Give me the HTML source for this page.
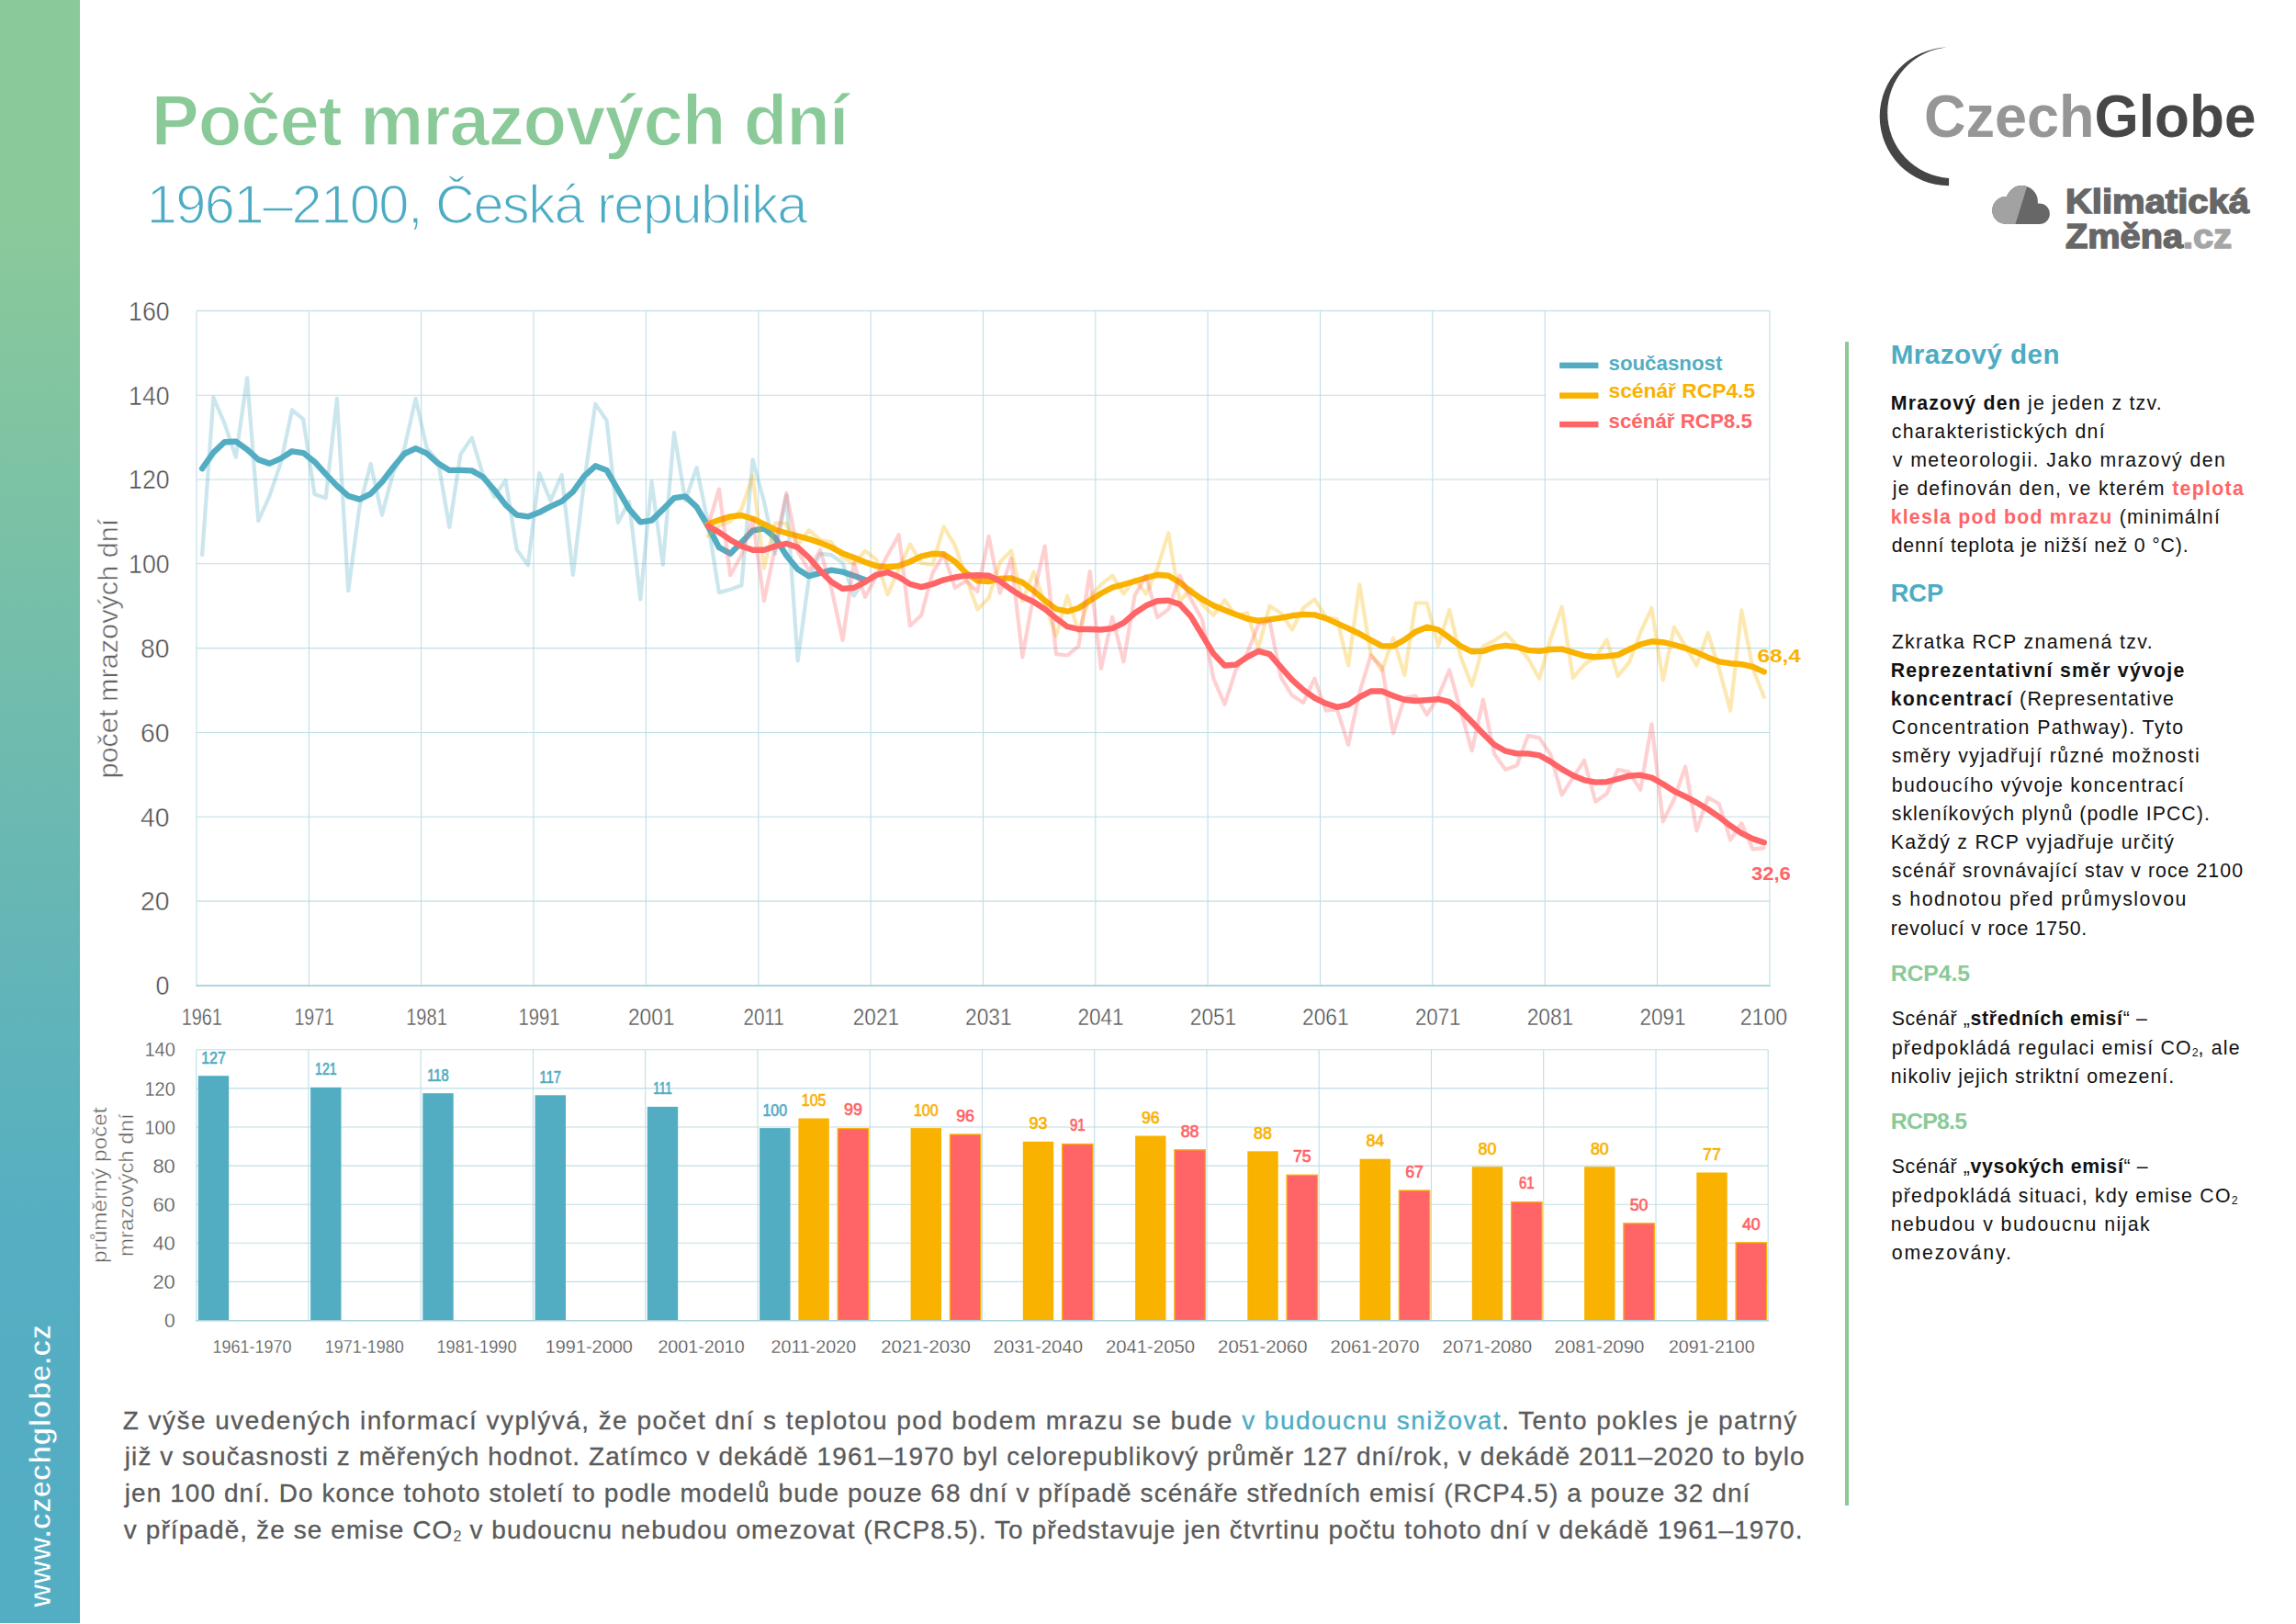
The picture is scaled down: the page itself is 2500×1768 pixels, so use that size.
<!DOCTYPE html>
<html lang="cs"><head><meta charset="utf-8"><title>Počet mrazových dní</title>
<style>
html,body{margin:0;padding:0;background:#fff}
body{width:2500px;height:1768px;position:relative;overflow:hidden;font-family:"Liberation Sans",sans-serif}
#bar{position:absolute;left:0;top:0;width:87.4px;height:1766.5px;background:linear-gradient(to bottom,#8ACA99 0%,#8AC99A 14%,#6FBBAE 45%,#55AEC2 76%,#53ADC3 100%)}
#vline{position:absolute;left:2009.3px;top:372px;width:4.2px;height:1266.8px;background:#8ACA98}
svg{position:absolute;left:0;top:0}
svg text{font-family:"Liberation Sans",sans-serif}
.ln{position:absolute;white-space:nowrap;margin:0}
.sb{color:#111}
.sb b{font-weight:bold}
.r{color:#FF6466}
.hd{color:#4CACC4;font-weight:bold}
.hg{color:#8ACA98;font-weight:bold}
.pp{color:#5a5a5a;-webkit-text-stroke:0.3px #5a5a5a}
.t{color:#4CACC4;-webkit-text-stroke:0.3px #4CACC4}
.tt{color:#8ACA98;font-weight:bold;-webkit-text-stroke:1.4px #fff}
.st{color:#4CACC4;-webkit-text-stroke:1.5px #fff}
sub{font-size:58%;vertical-align:baseline;position:relative;top:0.18em;letter-spacing:0;-webkit-text-stroke:0}
</style></head><body>
<div id="bar"></div>
<div id="vline"></div>
<svg width="2500" height="1768" viewBox="0 0 2500 1768">
<g stroke="#BEDEE7" stroke-width="1.1" fill="none"><line x1="214.0" y1="1072.9" x2="1926.9" y2="1072.9"/><line x1="214.0" y1="981.1" x2="1926.9" y2="981.1"/><line x1="214.0" y1="889.3" x2="1926.9" y2="889.3"/><line x1="214.0" y1="797.5" x2="1926.9" y2="797.5"/><line x1="214.0" y1="705.6" x2="1926.9" y2="705.6"/><line x1="214.0" y1="613.8" x2="1926.9" y2="613.8"/><line x1="214.0" y1="522.0" x2="1926.9" y2="522.0"/><line x1="214.0" y1="430.2" x2="1926.9" y2="430.2"/><line x1="214.0" y1="338.4" x2="1926.9" y2="338.4"/><line x1="214.0" y1="338.4" x2="214.0" y2="1072.9"/><line x1="336.4" y1="338.4" x2="336.4" y2="1072.9"/><line x1="458.7" y1="338.4" x2="458.7" y2="1072.9"/><line x1="581.0" y1="338.4" x2="581.0" y2="1072.9"/><line x1="703.4" y1="338.4" x2="703.4" y2="1072.9"/><line x1="825.8" y1="338.4" x2="825.8" y2="1072.9"/><line x1="948.1" y1="338.4" x2="948.1" y2="1072.9"/><line x1="1070.4" y1="338.4" x2="1070.4" y2="1072.9"/><line x1="1192.8" y1="338.4" x2="1192.8" y2="1072.9"/><line x1="1315.1" y1="338.4" x2="1315.1" y2="1072.9"/><line x1="1437.5" y1="338.4" x2="1437.5" y2="1072.9"/><line x1="1559.8" y1="338.4" x2="1559.8" y2="1072.9"/><line x1="1682.2" y1="338.4" x2="1682.2" y2="1072.9"/><line x1="1804.5" y1="338.4" x2="1804.5" y2="1072.9"/><line x1="1926.9" y1="338.4" x2="1926.9" y2="1072.9"/></g>
<rect x="1683.6" y="339.5" width="242.2" height="181.2" fill="#fff"/>
<line x1="213.4" y1="1073.1" x2="1927.5" y2="1073.1" stroke="#A9D3DE" stroke-width="1.8"/>
<g fill="none" stroke-linejoin="round" stroke-linecap="round"><polyline points="220.1,604.2 232.4,432.5 244.6,461.4 256.8,497.7 269.1,411.4 281.3,567.0 293.5,539.9 305.8,503.7 318.0,446.3 330.2,456.4 342.5,538.1 354.7,542.2 366.9,433.9 379.2,643.2 391.4,552.3 403.6,505.0 415.9,560.6 428.1,514.7 440.3,488.1 452.6,433.9 464.8,488.1 477.1,502.3 489.3,573.9 501.5,494.5 513.8,476.6 526.0,517.4 538.2,540.8 550.5,522.9 562.7,598.2 574.9,615.2 587.2,515.1 599.4,545.0 611.6,517.0 623.9,625.8 636.1,524.3 648.3,439.9 660.6,457.8 672.8,568.8 685.0,545.9 697.3,652.4 709.5,524.3 721.8,614.8 734.0,471.1 746.2,545.0 758.5,509.2 770.7,567.9 782.9,645.1 795.2,641.8 807.4,637.2 819.6,500.4 831.9,545.9 844.1,602.8 856.3,539.5 868.6,719.4 880.8,629.4 893.0,602.8 905.3,604.2 917.5,612.9 929.7,648.7 942.0,630.8" stroke="#52ADC3" stroke-width="4.2" stroke-opacity="0.3"/><polyline points="220.1,510.1 232.4,492.6 244.6,481.2 256.8,480.7 269.1,489.4 281.3,500.4 293.5,504.6 305.8,499.1 318.0,491.3 330.2,493.1 342.5,502.7 354.7,516.1 366.9,528.9 379.2,539.9 391.4,543.6 403.6,537.6 415.9,524.8 428.1,508.7 440.3,494.0 452.6,488.1 464.8,493.6 477.1,504.6 489.3,511.9 501.5,511.9 513.8,512.4 526.0,519.3 538.2,533.5 550.5,549.6 562.7,560.6 574.9,562.4 587.2,557.8 599.4,551.4 611.6,545.9 623.9,535.3 636.1,518.4 648.3,507.3 660.6,511.9 672.8,533.0 685.0,554.2 697.3,568.4 709.5,566.6 721.8,554.6 734.0,542.2 746.2,540.4 758.5,551.9 770.7,572.5 782.9,595.9 795.2,602.8 807.4,590.4 819.6,577.6 831.9,575.3 844.1,585.4 856.3,604.7 868.6,619.8 880.8,627.2 893.0,623.9 905.3,620.7 917.5,622.6 929.7,626.7 942.0,631.3" stroke="#52ADC3" stroke-width="6.4"/><polyline points="770.7,583.5 782.9,572.1 795.2,567.9 807.4,554.2 819.6,518.4 831.9,618.4 844.1,569.3 856.3,570.2 868.6,593.2 880.8,577.1 893.0,587.7 905.3,590.4 917.5,607.0 929.7,614.3 942.0,599.6 954.2,609.2 966.5,647.3 978.7,619.8 990.9,592.7 1003.2,612.9 1015.4,614.8 1027.6,573.4 1039.9,594.1 1052.1,629.4 1064.3,663.4 1076.6,651.0 1088.8,612.0 1101.0,599.6 1113.3,654.7 1125.5,622.6 1137.7,656.5 1150.0,692.3 1162.2,648.7 1174.4,688.2 1186.7,649.6 1198.9,636.3 1211.2,626.7 1223.4,646.4 1235.6,630.8 1247.9,646.4 1260.1,618.9 1272.3,580.3 1284.6,654.7 1296.8,640.5 1309.0,657.9 1321.3,669.8 1333.5,653.3 1345.7,670.3 1358.0,667.5 1370.2,705.6 1382.4,659.7 1394.7,667.5 1406.9,685.5 1419.1,662.0 1431.4,652.4 1443.6,671.7 1455.9,674.0 1468.1,724.5 1480.3,636.3 1492.6,712.1 1504.8,730.0 1517.0,694.6 1529.3,735.0 1541.5,656.5 1553.7,656.5 1566.0,702.9 1578.2,663.9 1590.4,714.8 1602.7,746.5 1614.9,703.4 1627.1,697.4 1639.4,689.1 1651.6,702.9 1663.8,716.7 1676.1,738.7 1688.3,695.6 1700.6,660.7 1712.8,737.8 1725.0,723.6 1737.3,715.3 1749.5,696.5 1761.7,735.9 1774.0,720.8 1786.2,688.7 1798.4,662.0 1810.7,740.5 1822.9,682.7 1835.1,703.4 1847.4,724.5 1859.6,689.1 1871.8,727.7 1884.1,773.6 1896.3,664.3 1908.5,727.7 1920.8,758.9" stroke="#FAB200" stroke-width="4.2" stroke-opacity="0.3"/><polyline points="770.7,570.7 782.9,566.1 795.2,562.4 807.4,561.0 819.6,564.7 831.9,570.7 844.1,576.7 856.3,580.3 868.6,583.5 880.8,586.8 893.0,590.9 905.3,595.9 917.5,602.4 929.7,607.0 942.0,612.0 954.2,616.1 966.5,617.5 978.7,616.1 990.9,611.5 1003.2,605.6 1015.4,602.8 1027.6,603.3 1039.9,611.5 1052.1,623.9 1064.3,632.2 1076.6,633.1 1088.8,629.9 1101.0,629.4 1113.3,634.0 1125.5,643.2 1137.7,653.8 1150.0,663.0 1162.2,665.7 1174.4,662.0 1186.7,653.8 1198.9,646.0 1211.2,639.5 1223.4,636.3 1235.6,632.7 1247.9,629.0 1260.1,625.8 1272.3,626.7 1284.6,634.0 1296.8,644.1 1309.0,652.4 1321.3,659.3 1333.5,664.3 1345.7,668.9 1358.0,673.5 1370.2,675.8 1382.4,674.4 1394.7,672.6 1406.9,670.3 1419.1,668.9 1431.4,669.4 1443.6,673.1 1455.9,678.6 1468.1,684.1 1480.3,690.0 1492.6,696.9 1504.8,703.4 1517.0,703.4 1529.3,696.5 1541.5,687.7 1553.7,682.7 1566.0,685.5 1578.2,694.2 1590.4,703.4 1602.7,709.3 1614.9,708.9 1627.1,704.7 1639.4,702.9 1651.6,704.3 1663.8,707.9 1676.1,708.9 1688.3,707.0 1700.6,706.6 1712.8,710.2 1725.0,713.9 1737.3,715.3 1749.5,714.4 1761.7,713.0 1774.0,707.0 1786.2,701.5 1798.4,698.3 1810.7,699.2 1822.9,702.0 1835.1,705.6 1847.4,710.2 1859.6,715.7 1871.8,720.3 1884.1,722.2 1896.3,723.1 1908.5,725.8 1920.8,731.4" stroke="#FAB200" stroke-width="6.4"/><polyline points="770.7,573.4 782.9,532.6 795.2,626.2 807.4,604.2 819.6,565.2 831.9,654.2 844.1,595.5 856.3,536.7 868.6,600.1 880.8,621.2 893.0,598.7 905.3,640.5 917.5,696.9 929.7,612.9 942.0,650.1 954.2,627.2 966.5,604.2 978.7,582.2 990.9,681.3 1003.2,669.8 1015.4,623.9 1027.6,603.7 1039.9,640.0 1052.1,632.2 1064.3,644.1 1076.6,584.0 1088.8,645.5 1101.0,607.9 1113.3,715.3 1125.5,646.9 1137.7,594.6 1150.0,712.1 1162.2,713.5 1174.4,703.4 1186.7,622.1 1198.9,727.7 1211.2,671.7 1223.4,720.3 1235.6,648.3 1247.9,626.7 1260.1,672.1 1272.3,663.4 1284.6,626.7 1296.8,652.4 1309.0,674.4 1321.3,738.7 1333.5,766.7 1345.7,729.1 1358.0,711.2 1370.2,679.9 1382.4,675.8 1394.7,737.3 1406.9,757.1 1419.1,764.9 1431.4,738.7 1443.6,773.6 1455.9,772.2 1468.1,810.8 1480.3,753.9 1492.6,713.5 1504.8,726.3 1517.0,798.4 1529.3,759.8 1541.5,757.5 1553.7,778.2 1566.0,758.4 1578.2,729.5 1590.4,773.6 1602.7,817.2 1614.9,761.7 1627.1,820.9 1639.4,837.9 1651.6,833.3 1663.8,800.7 1676.1,803.4 1688.3,821.3 1700.6,865.4 1712.8,846.6 1725.0,827.8 1737.3,872.7 1749.5,864.0 1761.7,837.9 1774.0,840.6 1786.2,859.9 1798.4,788.3 1810.7,894.3 1822.9,870.0 1835.1,834.6 1847.4,904.4 1859.6,868.2 1871.8,875.0 1884.1,914.5 1896.3,896.2 1908.5,924.6 1920.8,923.2" stroke="#FF6466" stroke-width="4.2" stroke-opacity="0.3"/><polyline points="770.7,572.5 782.9,579.4 795.2,587.7 807.4,594.6 819.6,598.7 831.9,598.7 844.1,594.6 856.3,591.8 868.6,595.9 880.8,607.0 893.0,621.2 905.3,633.6 917.5,640.9 929.7,640.0 942.0,633.6 954.2,625.8 966.5,623.0 978.7,628.1 990.9,635.9 1003.2,639.1 1015.4,635.9 1027.6,631.3 1039.9,628.5 1052.1,626.7 1064.3,626.2 1076.6,626.7 1088.8,632.7 1101.0,641.8 1113.3,649.6 1125.5,655.2 1137.7,663.0 1150.0,673.1 1162.2,682.2 1174.4,685.0 1186.7,685.0 1198.9,685.5 1211.2,684.1 1223.4,678.1 1235.6,667.5 1247.9,659.3 1260.1,654.2 1272.3,653.8 1284.6,657.9 1296.8,671.2 1309.0,691.4 1321.3,711.6 1333.5,724.5 1345.7,723.6 1358.0,715.3 1370.2,708.9 1382.4,712.1 1394.7,726.3 1406.9,740.1 1419.1,751.1 1431.4,759.8 1443.6,765.8 1455.9,769.9 1468.1,767.2 1480.3,758.9 1492.6,752.5 1504.8,752.5 1517.0,757.5 1529.3,761.7 1541.5,763.0 1553.7,762.1 1566.0,761.2 1578.2,764.0 1590.4,773.6 1602.7,786.0 1614.9,798.8 1627.1,810.8 1639.4,817.7 1651.6,820.4 1663.8,820.4 1676.1,822.3 1688.3,829.1 1700.6,837.4 1712.8,844.3 1725.0,849.3 1737.3,851.6 1749.5,851.2 1761.7,848.0 1774.0,844.7 1786.2,843.8 1798.4,846.6 1810.7,853.5 1822.9,861.3 1835.1,867.2 1847.4,873.7 1859.6,881.0 1871.8,889.3 1884.1,898.9 1896.3,907.2 1908.5,913.1 1920.8,917.3" stroke="#FF6466" stroke-width="6.4"/></g>

<text x="184.6" y="1083.2" font-size="28.6" fill="#515151" text-anchor="end" font-weight="normal" textLength="15.0" lengthAdjust="spacingAndGlyphs" stroke="#fff" stroke-width="0.45">0</text>
<text x="184.6" y="991.4" font-size="28.6" fill="#515151" text-anchor="end" font-weight="normal" textLength="31.5" lengthAdjust="spacingAndGlyphs" stroke="#fff" stroke-width="0.45">20</text>
<text x="184.6" y="899.6" font-size="28.6" fill="#515151" text-anchor="end" font-weight="normal" textLength="31.5" lengthAdjust="spacingAndGlyphs" stroke="#fff" stroke-width="0.45">40</text>
<text x="184.6" y="807.8" font-size="28.6" fill="#515151" text-anchor="end" font-weight="normal" textLength="31.5" lengthAdjust="spacingAndGlyphs" stroke="#fff" stroke-width="0.45">60</text>
<text x="184.6" y="715.9" font-size="28.6" fill="#515151" text-anchor="end" font-weight="normal" textLength="31.5" lengthAdjust="spacingAndGlyphs" stroke="#fff" stroke-width="0.45">80</text>
<text x="184.6" y="624.1" font-size="28.6" fill="#515151" text-anchor="end" font-weight="normal" textLength="44.5" lengthAdjust="spacingAndGlyphs" stroke="#fff" stroke-width="0.45">100</text>
<text x="184.6" y="532.3" font-size="28.6" fill="#515151" text-anchor="end" font-weight="normal" textLength="44.5" lengthAdjust="spacingAndGlyphs" stroke="#fff" stroke-width="0.45">120</text>
<text x="184.6" y="440.5" font-size="28.6" fill="#515151" text-anchor="end" font-weight="normal" textLength="44.5" lengthAdjust="spacingAndGlyphs" stroke="#fff" stroke-width="0.45">140</text>
<text x="184.6" y="348.7" font-size="28.6" fill="#515151" text-anchor="end" font-weight="normal" textLength="44.5" lengthAdjust="spacingAndGlyphs" stroke="#fff" stroke-width="0.45">160</text>
<text x="219.8" y="1116.0" font-size="25.6" fill="#515151" text-anchor="middle" font-weight="normal" textLength="44.3" lengthAdjust="spacingAndGlyphs" stroke="#fff" stroke-width="0.38">1961</text>
<text x="342.2" y="1116.0" font-size="25.6" fill="#515151" text-anchor="middle" font-weight="normal" textLength="43.6" lengthAdjust="spacingAndGlyphs" stroke="#fff" stroke-width="0.38">1971</text>
<text x="464.5" y="1116.0" font-size="25.6" fill="#515151" text-anchor="middle" font-weight="normal" textLength="44.7" lengthAdjust="spacingAndGlyphs" stroke="#fff" stroke-width="0.38">1981</text>
<text x="586.9" y="1116.0" font-size="25.6" fill="#515151" text-anchor="middle" font-weight="normal" textLength="45.0" lengthAdjust="spacingAndGlyphs" stroke="#fff" stroke-width="0.38">1991</text>
<text x="709.2" y="1116.0" font-size="25.6" fill="#515151" text-anchor="middle" font-weight="normal" textLength="50.6" lengthAdjust="spacingAndGlyphs" stroke="#fff" stroke-width="0.38">2001</text>
<text x="831.6" y="1116.0" font-size="25.6" fill="#515151" text-anchor="middle" font-weight="normal" textLength="44.3" lengthAdjust="spacingAndGlyphs" stroke="#fff" stroke-width="0.38">2011</text>
<text x="953.9" y="1116.0" font-size="25.6" fill="#515151" text-anchor="middle" font-weight="normal" textLength="50.2" lengthAdjust="spacingAndGlyphs" stroke="#fff" stroke-width="0.38">2021</text>
<text x="1076.3" y="1116.0" font-size="25.6" fill="#515151" text-anchor="middle" font-weight="normal" textLength="50.5" lengthAdjust="spacingAndGlyphs" stroke="#fff" stroke-width="0.38">2031</text>
<text x="1198.6" y="1116.0" font-size="25.6" fill="#515151" text-anchor="middle" font-weight="normal" textLength="50.0" lengthAdjust="spacingAndGlyphs" stroke="#fff" stroke-width="0.38">2041</text>
<text x="1321.0" y="1116.0" font-size="25.6" fill="#515151" text-anchor="middle" font-weight="normal" textLength="50.3" lengthAdjust="spacingAndGlyphs" stroke="#fff" stroke-width="0.38">2051</text>
<text x="1443.3" y="1116.0" font-size="25.6" fill="#515151" text-anchor="middle" font-weight="normal" textLength="50.5" lengthAdjust="spacingAndGlyphs" stroke="#fff" stroke-width="0.38">2061</text>
<text x="1565.7" y="1116.0" font-size="25.6" fill="#515151" text-anchor="middle" font-weight="normal" textLength="49.5" lengthAdjust="spacingAndGlyphs" stroke="#fff" stroke-width="0.38">2071</text>
<text x="1688.0" y="1116.0" font-size="25.6" fill="#515151" text-anchor="middle" font-weight="normal" textLength="50.5" lengthAdjust="spacingAndGlyphs" stroke="#fff" stroke-width="0.38">2081</text>
<text x="1810.4" y="1116.0" font-size="25.6" fill="#515151" text-anchor="middle" font-weight="normal" textLength="50.0" lengthAdjust="spacingAndGlyphs" stroke="#fff" stroke-width="0.38">2091</text>
<text x="1920.5" y="1116.0" font-size="25.6" fill="#515151" text-anchor="middle" font-weight="normal" textLength="51.5" lengthAdjust="spacingAndGlyphs" stroke="#fff" stroke-width="0.38">2100</text>
<text transform="translate(128.1,847.6) rotate(-90)" font-size="29" fill="#646464" stroke="#fff" stroke-width="0.5" textLength="283" lengthAdjust="spacingAndGlyphs">počet mrazových dní</text>
<text x="1913.6" y="720.9" font-size="20.5" fill="#FAB200" text-anchor="start" font-weight="bold" textLength="47.2" lengthAdjust="spacingAndGlyphs">68,4</text>
<text x="1907.0" y="957.8" font-size="20.5" fill="#FF6466" text-anchor="start" font-weight="bold" textLength="42.8" lengthAdjust="spacingAndGlyphs">32,6</text>
<rect x="1698.1" y="394.6" width="42.3" height="6.5" fill="#52ADC3"/>
<rect x="1698.1" y="427.4" width="42.3" height="6.5" fill="#FAB200"/>
<rect x="1698.1" y="458.8" width="42.3" height="6.5" fill="#FF6466"/>
<text x="1751.5" y="403.2" font-size="21.6" fill="#52ADC3" text-anchor="start" font-weight="bold" textLength="123.8" lengthAdjust="spacingAndGlyphs">současnost</text>
<text x="1751.5" y="433.4" font-size="21.6" fill="#FAB200" text-anchor="start" font-weight="bold" textLength="159.6" lengthAdjust="spacingAndGlyphs">scénář RCP4.5</text>
<text x="1751.5" y="465.9" font-size="21.6" fill="#FF6466" text-anchor="start" font-weight="bold" textLength="156.4" lengthAdjust="spacingAndGlyphs">scénář RCP8.5</text>
<g stroke="#BEDEE7" stroke-width="1.1" fill="none"><line x1="213.7" y1="1437.5" x2="1925.2" y2="1437.5"/><line x1="213.7" y1="1395.4" x2="1925.2" y2="1395.4"/><line x1="213.7" y1="1353.3" x2="1925.2" y2="1353.3"/><line x1="213.7" y1="1311.2" x2="1925.2" y2="1311.2"/><line x1="213.7" y1="1269.1" x2="1925.2" y2="1269.1"/><line x1="213.7" y1="1227.0" x2="1925.2" y2="1227.0"/><line x1="213.7" y1="1184.9" x2="1925.2" y2="1184.9"/><line x1="213.7" y1="1142.8" x2="1925.2" y2="1142.8"/><line x1="213.7" y1="1142.8" x2="213.7" y2="1437.5"/><line x1="335.9" y1="1142.8" x2="335.9" y2="1437.5"/><line x1="458.2" y1="1142.8" x2="458.2" y2="1437.5"/><line x1="580.5" y1="1142.8" x2="580.5" y2="1437.5"/><line x1="702.7" y1="1142.8" x2="702.7" y2="1437.5"/><line x1="825.0" y1="1142.8" x2="825.0" y2="1437.5"/><line x1="947.2" y1="1142.8" x2="947.2" y2="1437.5"/><line x1="1069.5" y1="1142.8" x2="1069.5" y2="1437.5"/><line x1="1191.7" y1="1142.8" x2="1191.7" y2="1437.5"/><line x1="1314.0" y1="1142.8" x2="1314.0" y2="1437.5"/><line x1="1436.2" y1="1142.8" x2="1436.2" y2="1437.5"/><line x1="1558.5" y1="1142.8" x2="1558.5" y2="1437.5"/><line x1="1680.7" y1="1142.8" x2="1680.7" y2="1437.5"/><line x1="1803.0" y1="1142.8" x2="1803.0" y2="1437.5"/><line x1="1925.2" y1="1142.8" x2="1925.2" y2="1437.5"/></g>
<rect x="215.8" y="1171.2" width="33.4" height="266.3" fill="#52ADC3"/><rect x="338.1" y="1183.8" width="33.4" height="253.7" fill="#52ADC3"/><rect x="460.3" y="1190.2" width="33.4" height="247.3" fill="#52ADC3"/><rect x="582.6" y="1192.3" width="33.4" height="245.2" fill="#52ADC3"/><rect x="704.8" y="1204.9" width="33.4" height="232.6" fill="#52ADC3"/><rect x="827.1" y="1228.1" width="33.4" height="209.4" fill="#52ADC3"/><rect x="869.4" y="1217.5" width="33.4" height="220.0" fill="#FAB200"/><rect x="912.2" y="1228.7" width="33.4" height="208.8" fill="#FF6466" stroke="#FAB200" stroke-width="1.3"/><rect x="991.6" y="1228.1" width="33.4" height="209.4" fill="#FAB200"/><rect x="1034.4" y="1235.0" width="33.4" height="202.5" fill="#FF6466" stroke="#FAB200" stroke-width="1.3"/><rect x="1113.8" y="1242.8" width="33.4" height="194.7" fill="#FAB200"/><rect x="1156.6" y="1245.5" width="33.4" height="192.0" fill="#FF6466" stroke="#FAB200" stroke-width="1.3"/><rect x="1236.1" y="1236.5" width="33.4" height="201.0" fill="#FAB200"/><rect x="1278.9" y="1251.8" width="33.4" height="185.7" fill="#FF6466" stroke="#FAB200" stroke-width="1.3"/><rect x="1358.3" y="1253.3" width="33.4" height="184.2" fill="#FAB200"/><rect x="1401.1" y="1279.2" width="33.4" height="158.3" fill="#FF6466" stroke="#FAB200" stroke-width="1.3"/><rect x="1480.6" y="1261.7" width="33.4" height="175.8" fill="#FAB200"/><rect x="1523.4" y="1296.0" width="33.4" height="141.5" fill="#FF6466" stroke="#FAB200" stroke-width="1.3"/><rect x="1602.8" y="1270.2" width="33.4" height="167.3" fill="#FAB200"/><rect x="1645.6" y="1308.6" width="33.4" height="128.9" fill="#FF6466" stroke="#FAB200" stroke-width="1.3"/><rect x="1725.1" y="1270.2" width="33.4" height="167.3" fill="#FAB200"/><rect x="1767.9" y="1331.8" width="33.4" height="105.7" fill="#FF6466" stroke="#FAB200" stroke-width="1.3"/><rect x="1847.3" y="1276.5" width="33.4" height="161.0" fill="#FAB200"/><rect x="1890.1" y="1352.8" width="33.4" height="84.7" fill="#FF6466" stroke="#FAB200" stroke-width="1.3"/>
<line x1="213.1" y1="1437.7" x2="1925.8" y2="1437.7" stroke="#A9D3DE" stroke-width="1.6"/>
<text x="232.5" y="1157.6" font-size="17.8" fill="#52ADC3" text-anchor="middle" font-weight="normal" textLength="26.6" lengthAdjust="spacingAndGlyphs" stroke="#52ADC3" stroke-width="0.7">127</text>
<text x="354.8" y="1170.2" font-size="17.8" fill="#52ADC3" text-anchor="middle" font-weight="normal" textLength="23.5" lengthAdjust="spacingAndGlyphs" stroke="#52ADC3" stroke-width="0.7">121</text>
<text x="477.0" y="1176.6" font-size="17.8" fill="#52ADC3" text-anchor="middle" font-weight="normal" textLength="23.5" lengthAdjust="spacingAndGlyphs" stroke="#52ADC3" stroke-width="0.7">118</text>
<text x="599.3" y="1178.7" font-size="17.8" fill="#52ADC3" text-anchor="middle" font-weight="normal" textLength="23.5" lengthAdjust="spacingAndGlyphs" stroke="#52ADC3" stroke-width="0.7">117</text>
<text x="721.5" y="1191.3" font-size="17.8" fill="#52ADC3" text-anchor="middle" font-weight="normal" textLength="20.4" lengthAdjust="spacingAndGlyphs" stroke="#52ADC3" stroke-width="0.7">111</text>
<text x="843.8" y="1214.5" font-size="17.8" fill="#52ADC3" text-anchor="middle" font-weight="normal" textLength="26.6" lengthAdjust="spacingAndGlyphs" stroke="#52ADC3" stroke-width="0.7">100</text>
<text x="886.1" y="1203.9" font-size="17.8" fill="#FAB200" text-anchor="middle" font-weight="normal" textLength="26.6" lengthAdjust="spacingAndGlyphs" stroke="#FAB200" stroke-width="0.7">105</text>
<text x="928.9" y="1214.4" font-size="17.8" fill="#FF6466" text-anchor="middle" font-weight="normal" stroke="#FF6466" stroke-width="0.7">99</text>
<text x="1008.3" y="1214.5" font-size="17.8" fill="#FAB200" text-anchor="middle" font-weight="normal" textLength="26.6" lengthAdjust="spacingAndGlyphs" stroke="#FAB200" stroke-width="0.7">100</text>
<text x="1051.1" y="1220.7" font-size="17.8" fill="#FF6466" text-anchor="middle" font-weight="normal" stroke="#FF6466" stroke-width="0.7">96</text>
<text x="1130.5" y="1229.2" font-size="17.8" fill="#FAB200" text-anchor="middle" font-weight="normal" stroke="#FAB200" stroke-width="0.7">93</text>
<text x="1173.3" y="1231.2" font-size="17.8" fill="#FF6466" text-anchor="middle" font-weight="normal" textLength="16.7" lengthAdjust="spacingAndGlyphs" stroke="#FF6466" stroke-width="0.7">91</text>
<text x="1252.8" y="1222.9" font-size="17.8" fill="#FAB200" text-anchor="middle" font-weight="normal" stroke="#FAB200" stroke-width="0.7">96</text>
<text x="1295.6" y="1237.6" font-size="17.8" fill="#FF6466" text-anchor="middle" font-weight="normal" stroke="#FF6466" stroke-width="0.7">88</text>
<text x="1375.0" y="1239.7" font-size="17.8" fill="#FAB200" text-anchor="middle" font-weight="normal" stroke="#FAB200" stroke-width="0.7">88</text>
<text x="1417.8" y="1264.9" font-size="17.8" fill="#FF6466" text-anchor="middle" font-weight="normal" stroke="#FF6466" stroke-width="0.7">75</text>
<text x="1497.3" y="1248.1" font-size="17.8" fill="#FAB200" text-anchor="middle" font-weight="normal" stroke="#FAB200" stroke-width="0.7">84</text>
<text x="1540.1" y="1281.8" font-size="17.8" fill="#FF6466" text-anchor="middle" font-weight="normal" stroke="#FF6466" stroke-width="0.7">67</text>
<text x="1619.5" y="1256.6" font-size="17.8" fill="#FAB200" text-anchor="middle" font-weight="normal" stroke="#FAB200" stroke-width="0.7">80</text>
<text x="1662.3" y="1294.4" font-size="17.8" fill="#FF6466" text-anchor="middle" font-weight="normal" textLength="16.7" lengthAdjust="spacingAndGlyphs" stroke="#FF6466" stroke-width="0.7">61</text>
<text x="1741.8" y="1256.6" font-size="17.8" fill="#FAB200" text-anchor="middle" font-weight="normal" stroke="#FAB200" stroke-width="0.7">80</text>
<text x="1784.6" y="1317.6" font-size="17.8" fill="#FF6466" text-anchor="middle" font-weight="normal" stroke="#FF6466" stroke-width="0.7">50</text>
<text x="1864.0" y="1262.9" font-size="17.8" fill="#FAB200" text-anchor="middle" font-weight="normal" stroke="#FAB200" stroke-width="0.7">77</text>
<text x="1906.8" y="1338.6" font-size="17.8" fill="#FF6466" text-anchor="middle" font-weight="normal" stroke="#FF6466" stroke-width="0.7">40</text>
<text x="190.8" y="1445.1" font-size="21.2" fill="#515151" text-anchor="end" font-weight="normal" textLength="11.7" lengthAdjust="spacingAndGlyphs" stroke="#fff" stroke-width="0.3">0</text>
<text x="190.8" y="1403.0" font-size="21.2" fill="#515151" text-anchor="end" font-weight="normal" textLength="24.4" lengthAdjust="spacingAndGlyphs" stroke="#fff" stroke-width="0.3">20</text>
<text x="190.8" y="1360.9" font-size="21.2" fill="#515151" text-anchor="end" font-weight="normal" textLength="24.4" lengthAdjust="spacingAndGlyphs" stroke="#fff" stroke-width="0.3">40</text>
<text x="190.8" y="1318.8" font-size="21.2" fill="#515151" text-anchor="end" font-weight="normal" textLength="24.4" lengthAdjust="spacingAndGlyphs" stroke="#fff" stroke-width="0.3">60</text>
<text x="190.8" y="1276.7" font-size="21.2" fill="#515151" text-anchor="end" font-weight="normal" textLength="24.4" lengthAdjust="spacingAndGlyphs" stroke="#fff" stroke-width="0.3">80</text>
<text x="190.8" y="1234.6" font-size="21.2" fill="#515151" text-anchor="end" font-weight="normal" textLength="33.4" lengthAdjust="spacingAndGlyphs" stroke="#fff" stroke-width="0.3">100</text>
<text x="190.8" y="1192.5" font-size="21.2" fill="#515151" text-anchor="end" font-weight="normal" textLength="33.4" lengthAdjust="spacingAndGlyphs" stroke="#fff" stroke-width="0.3">120</text>
<text x="190.8" y="1150.4" font-size="21.2" fill="#515151" text-anchor="end" font-weight="normal" textLength="33.4" lengthAdjust="spacingAndGlyphs" stroke="#fff" stroke-width="0.3">140</text>
<text x="274.5" y="1472.7" font-size="20.4" fill="#515151" text-anchor="middle" font-weight="normal" textLength="86.0" lengthAdjust="spacingAndGlyphs" stroke="#fff" stroke-width="0.3">1961-1970</text>
<text x="396.8" y="1472.7" font-size="20.4" fill="#515151" text-anchor="middle" font-weight="normal" textLength="86.0" lengthAdjust="spacingAndGlyphs" stroke="#fff" stroke-width="0.3">1971-1980</text>
<text x="519.0" y="1472.7" font-size="20.4" fill="#515151" text-anchor="middle" font-weight="normal" textLength="87.1" lengthAdjust="spacingAndGlyphs" stroke="#fff" stroke-width="0.3">1981-1990</text>
<text x="641.3" y="1472.7" font-size="20.4" fill="#515151" text-anchor="middle" font-weight="normal" textLength="95.3" lengthAdjust="spacingAndGlyphs" stroke="#fff" stroke-width="0.3">1991-2000</text>
<text x="763.5" y="1472.7" font-size="20.4" fill="#515151" text-anchor="middle" font-weight="normal" textLength="94.2" lengthAdjust="spacingAndGlyphs" stroke="#fff" stroke-width="0.3">2001-2010</text>
<text x="885.8" y="1472.7" font-size="20.4" fill="#515151" text-anchor="middle" font-weight="normal" textLength="92.6" lengthAdjust="spacingAndGlyphs" stroke="#fff" stroke-width="0.3">2011-2020</text>
<text x="1008.0" y="1472.7" font-size="20.4" fill="#515151" text-anchor="middle" font-weight="normal" textLength="97.5" lengthAdjust="spacingAndGlyphs" stroke="#fff" stroke-width="0.3">2021-2030</text>
<text x="1130.3" y="1472.7" font-size="20.4" fill="#515151" text-anchor="middle" font-weight="normal" textLength="97.5" lengthAdjust="spacingAndGlyphs" stroke="#fff" stroke-width="0.3">2031-2040</text>
<text x="1252.5" y="1472.7" font-size="20.4" fill="#515151" text-anchor="middle" font-weight="normal" textLength="97.2" lengthAdjust="spacingAndGlyphs" stroke="#fff" stroke-width="0.3">2041-2050</text>
<text x="1374.8" y="1472.7" font-size="20.4" fill="#515151" text-anchor="middle" font-weight="normal" textLength="97.4" lengthAdjust="spacingAndGlyphs" stroke="#fff" stroke-width="0.3">2051-2060</text>
<text x="1497.0" y="1472.7" font-size="20.4" fill="#515151" text-anchor="middle" font-weight="normal" textLength="96.9" lengthAdjust="spacingAndGlyphs" stroke="#fff" stroke-width="0.3">2061-2070</text>
<text x="1619.3" y="1472.7" font-size="20.4" fill="#515151" text-anchor="middle" font-weight="normal" textLength="97.5" lengthAdjust="spacingAndGlyphs" stroke="#fff" stroke-width="0.3">2071-2080</text>
<text x="1741.5" y="1472.7" font-size="20.4" fill="#515151" text-anchor="middle" font-weight="normal" textLength="98.0" lengthAdjust="spacingAndGlyphs" stroke="#fff" stroke-width="0.3">2081-2090</text>
<text x="1863.8" y="1472.7" font-size="20.4" fill="#515151" text-anchor="middle" font-weight="normal" textLength="93.7" lengthAdjust="spacingAndGlyphs" stroke="#fff" stroke-width="0.3">2091-2100</text>
<text transform="translate(116.0,1290.2) rotate(-90)" font-size="21.5" fill="#646464" stroke="#fff" stroke-width="0.4" text-anchor="middle" textLength="169.6" lengthAdjust="spacingAndGlyphs">průměrný počet</text>
<text transform="translate(145.2,1290.2) rotate(-90)" font-size="21.5" fill="#646464" stroke="#fff" stroke-width="0.4" text-anchor="middle" textLength="155.6" lengthAdjust="spacingAndGlyphs">mrazových dní</text>
<text transform="translate(54.6,1750) rotate(-90)" font-size="33" fill="#fff" font-weight="bold" stroke="#54AEC3" stroke-width="0.9" textLength="308" lengthAdjust="spacingAndGlyphs">www.czechglobe.cz</text>
<path d="M2119.8,51.6 A75.3,75.3 0 0 0 2046.7,126.9 A75.3,75.3 0 0 0 2122.1,202.2 L2122.1,193.9 A71.3,71.3 0 0 1 2055.2,122.6 A71.3,71.3 0 0 1 2119.8,51.6 Z" fill="#454545"/><text x="2095.0" y="148.8" font-size="65.5" fill="#969696" text-anchor="start" font-weight="bold" textLength="185.5" lengthAdjust="spacingAndGlyphs">Czech</text><text x="2280.6" y="148.8" font-size="65.5" fill="#474747" text-anchor="start" font-weight="bold" textLength="175.8" lengthAdjust="spacingAndGlyphs">Globe</text><clipPath id="cl"><circle cx="2184.2" cy="229.0" r="15"/><circle cx="2201.5" cy="219.5" r="17.4"/><circle cx="2220.6" cy="232.7" r="11.3"/><rect x="2184.2" y="226" width="36.4" height="18"/></clipPath><g clip-path="url(#cl)"><rect x="2160" y="195" width="80" height="55" fill="#676767"/><path d="M2160,195 L2209.6,195 L2194.0,245.5 L2160,245.5 Z" fill="#a2a2a2"/></g><text x="2249.0" y="231.9" font-size="36.4" fill="#676767" text-anchor="start" font-weight="bold" textLength="200.0" lengthAdjust="spacingAndGlyphs" stroke="#676767" stroke-width="1.5">Klimatická</text><text x="2249.0" y="269.5" font-size="36.4" font-weight="bold" fill="#676767" stroke="#676767" stroke-width="1.5" textLength="181.0" lengthAdjust="spacingAndGlyphs">Změna<tspan fill="#a5a5a5" stroke="#a5a5a5">.cz</tspan></text>
</svg>
<div class="ln hd" id="h1" style="left:2058.7px;top:371.2px;font-size:29.6px;line-height:29.6px;letter-spacing:0.460px">Mrazový den</div>
<div class="ln sb" id="s1" style="left:2058.7px;top:428.7px;font-size:21.3px;line-height:21.3px;letter-spacing:1.208px"><b>Mrazový den</b> je jeden z tzv.</div>
<div class="ln sb" id="s2" style="left:2059.7px;top:459.8px;font-size:21.3px;line-height:21.3px;letter-spacing:1.294px">charakteristických dní</div>
<div class="ln sb" id="s3" style="left:2060.7px;top:491.0px;font-size:21.3px;line-height:21.3px;letter-spacing:1.451px">v meteorologii. Jako mrazový den</div>
<div class="ln sb" id="s4" style="left:2060.7px;top:522.1px;font-size:21.3px;line-height:21.3px;letter-spacing:1.318px">je definován den, ve kterém <b class="r">teplota</b></div>
<div class="ln sb" id="s5" style="left:2058.7px;top:553.2px;font-size:21.3px;line-height:21.3px;letter-spacing:1.208px"><b class="r">klesla pod bod mrazu</b> (minimální</div>
<div class="ln sb" id="s6" style="left:2059.7px;top:584.3px;font-size:21.3px;line-height:21.3px;letter-spacing:0.837px">denní teplota je nižší než 0 °C).</div>
<div class="ln hd" id="h2" style="left:2058.7px;top:632.4px;font-size:27.2px;line-height:27.2px;letter-spacing:0.000px">RCP</div>
<div class="ln sb" id="r0" style="left:2059.7px;top:688.8px;font-size:21.3px;line-height:21.3px;letter-spacing:1.367px">Zkratka RCP znamená tzv.</div>
<div class="ln sb" id="r1" style="left:2058.7px;top:719.9px;font-size:21.3px;line-height:21.3px;letter-spacing:1.231px"><b>Reprezentativní směr vývoje</b></div>
<div class="ln sb" id="r2" style="left:2058.7px;top:751.1px;font-size:21.3px;line-height:21.3px;letter-spacing:1.246px"><b>koncentrací</b> (Representative</div>
<div class="ln sb" id="r3" style="left:2059.7px;top:782.3px;font-size:21.3px;line-height:21.3px;letter-spacing:1.425px">Concentration Pathway). Tyto</div>
<div class="ln sb" id="r4" style="left:2059.7px;top:813.4px;font-size:21.3px;line-height:21.3px;letter-spacing:1.428px">směry vyjadřují různé možnosti</div>
<div class="ln sb" id="r5" style="left:2059.7px;top:844.6px;font-size:21.3px;line-height:21.3px;letter-spacing:1.353px">budoucího vývoje koncentrací</div>
<div class="ln sb" id="r6" style="left:2059.7px;top:875.8px;font-size:21.3px;line-height:21.3px;letter-spacing:1.047px">skleníkových plynů (podle IPCC).</div>
<div class="ln sb" id="r7" style="left:2058.7px;top:907.0px;font-size:21.3px;line-height:21.3px;letter-spacing:1.259px">Každý z RCP vyjadřuje určitý</div>
<div class="ln sb" id="r8" style="left:2059.7px;top:938.1px;font-size:21.3px;line-height:21.3px;letter-spacing:1.047px">scénář srovnávající stav v roce 2100</div>
<div class="ln sb" id="r9" style="left:2059.7px;top:969.3px;font-size:21.3px;line-height:21.3px;letter-spacing:1.545px">s hodnotou před průmyslovou</div>
<div class="ln sb" id="r10" style="left:2058.7px;top:1000.5px;font-size:21.3px;line-height:21.3px;letter-spacing:0.790px">revolucí v roce 1750.</div>
<div class="ln hg" id="h3" style="left:2058.7px;top:1047.7px;font-size:24.8px;line-height:24.8px;letter-spacing:-0.080px">RCP4.5</div>
<div class="ln sb" id="a1" style="left:2059.7px;top:1099.4px;font-size:21.3px;line-height:21.3px;letter-spacing:0.664px">Scénář „<b>středních emisí</b>“ –</div>
<div class="ln sb" id="a2" style="left:2059.7px;top:1130.5px;font-size:21.3px;line-height:21.3px;letter-spacing:1.195px">předpokládá regulaci emisí CO<sub>2</sub>, ale</div>
<div class="ln sb" id="a3" style="left:2058.7px;top:1161.7px;font-size:21.3px;line-height:21.3px;letter-spacing:1.056px">nikoliv jejich striktní omezení.</div>
<div class="ln hg" id="h4" style="left:2058.7px;top:1208.5px;font-size:24.8px;line-height:24.8px;letter-spacing:-0.680px">RCP8.5</div>
<div class="ln sb" id="b1" style="left:2059.7px;top:1260.4px;font-size:21.3px;line-height:21.3px;letter-spacing:0.674px">Scénář „<b>vysokých emisí</b>“ –</div>
<div class="ln sb" id="b2" style="left:2059.7px;top:1291.6px;font-size:21.3px;line-height:21.3px;letter-spacing:1.242px">předpokládá situaci, kdy emise CO<sub>2</sub></div>
<div class="ln sb" id="b3" style="left:2058.7px;top:1322.8px;font-size:21.3px;line-height:21.3px;letter-spacing:1.452px">nebudou v budoucnu nijak</div>
<div class="ln sb" id="b4" style="left:2059.7px;top:1354.0px;font-size:21.3px;line-height:21.3px;letter-spacing:1.889px">omezovány.</div>
<div class="ln pp" id="p1" style="left:133.8px;top:1532.5px;font-size:28.0px;line-height:28.0px;letter-spacing:1.460px">Z výše uvedených informací vyplývá, že počet dní s teplotou pod bodem mrazu se bude <span class="t">v budoucnu snižovat</span>. Tento pokles je patrný</div>
<div class="ln pp" id="p2" style="left:135.8px;top:1572.3px;font-size:28.0px;line-height:28.0px;letter-spacing:1.077px">již v současnosti z měřených hodnot. Zatímco v dekádě 1961–1970 byl celorepublikový průměr 127 dní/rok, v dekádě 2011–2020 to bylo</div>
<div class="ln pp" id="p3" style="left:135.8px;top:1612.0px;font-size:28.0px;line-height:28.0px;letter-spacing:1.064px">jen 100 dní. Do konce tohoto století to podle modelů bude pouze 68 dní v případě scénáře středních emisí (RCP4.5) a pouze 32 dní</div>
<div class="ln pp" id="p4" style="left:134.8px;top:1651.8px;font-size:28.0px;line-height:28.0px;letter-spacing:1.088px">v případě, že se emise CO<sub>2</sub> v budoucnu nebudou omezovat (RCP8.5). To představuje jen čtvrtinu počtu tohoto dní v dekádě 1961–1970.</div>
<div class="ln tt" id="t1" style="left:164.8px;top:92.1px;font-size:78.0px;line-height:78.0px;letter-spacing:-1.145px">Počet mrazových dní</div>
<div class="ln st" id="t2" style="left:159.7px;top:192.9px;font-size:59.6px;line-height:59.6px;letter-spacing:-1.560px">1961–2100, Česká republika</div>
</body></html>
